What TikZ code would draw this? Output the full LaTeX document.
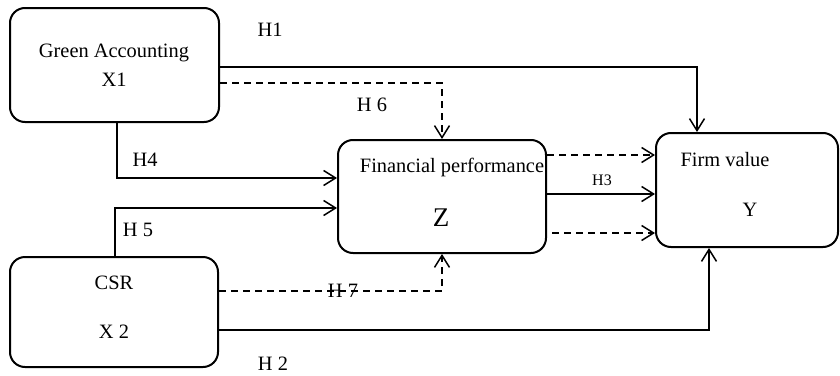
\documentclass[tikz,border=0pt]{standalone}
\usepackage{fontspec}
\setmainfont{Liberation Serif}
\usetikzlibrary{arrows.meta}
\tikzset{
  box/.style={draw, line width=1pt, rounded corners=7.5pt, inner sep=0pt},
  lbl/.style={inner sep=0pt, font=\fontsize{10.2}{12}\selectfont},
  conn/.style={line width=0.75pt, -{Straight Barb[length=6pt,width=7.5pt,line width=0.75pt]}},
  dconn/.style={conn, dash pattern=on 3.5pt off 2.5pt}
}
\begin{document}
\begin{tikzpicture}[x=0.5pt,y=-0.5pt]
\useasboundingbox (0,0) rectangle (840,375);

% boxes
\node[box, minimum width=104.5pt, minimum height=57pt] (ga) at (114.5,65) {};
\node[box, minimum width=104pt, minimum height=56.5pt] (fp) at (442,196.5) {};
\node[box, minimum width=91pt, minimum height=57pt] (fv) at (747,190) {};
\node[box, minimum width=104pt, minimum height=55pt] (csr) at (114,312) {};

% box texts
\node[lbl] (gat) at (114,53) {Green Accounting};
\node[lbl] (gax) at (114,80) {X1};
\node[lbl] (fpt) at (452,167) {Financial performance};
\node[lbl, font=\fontsize{13.5}{16}\selectfont] (fpz) at (441,218) {Z};
\node[lbl] (fvt) at (725,160) {Firm value};
\node[lbl] (fvy) at (750,210) {Y};
\node[lbl] (csrt) at (114,283) {CSR};
\node[lbl] (csrx) at (114,332) {X 2};

% bend points
\coordinate (h1) at (697,67);
\coordinate (h6) at (442,83);
\coordinate (h4) at (117,178);
\coordinate (h5) at (115,208);
\coordinate (h7) at (442,291);
\coordinate (h2) at (709,330);
\coordinate (r1) at (552,155);
\coordinate (r2) at (552,194);
\coordinate (r3) at (552,233);

% connectors
\draw[conn]  (ga.east |- h1) -| (h1 |- fv.north);
\draw[dconn] (ga.east |- h6) -| (fp.north);
\draw[conn]  (ga.south -| h4) |- (fp.west |- h4);
\draw[conn]  (csr.north -| h5) |- (fp.west |- h5);
\draw[dconn] (csr.east |- h7) -| (fp.south);
\draw[conn]  (csr.east |- h2) -| (h2 |- fv.south);
\draw[dconn] (fp.east |- r1) -- (fv.west |- r1);
\draw[conn]  (fp.east |- r2) -- (fv.west |- r2);
\draw[dconn] (r3) -- (fv.west |- r3);

% hypothesis labels
\node[lbl] (l1) at (270,30) {H1};
\node[lbl] (l6) at (372,105) {H 6};
\node[lbl] (l4) at (145,160) {H4};
\node[lbl, font=\fontsize{8}{10}\selectfont] (l3) at (602,180) {H3};
\node[lbl] (l5) at (138,230) {H 5};
\node[lbl] (l7) at (343,291) {H 7};
\node[lbl] (l2) at (273,364) {H 2};
\end{tikzpicture}
\end{document}
